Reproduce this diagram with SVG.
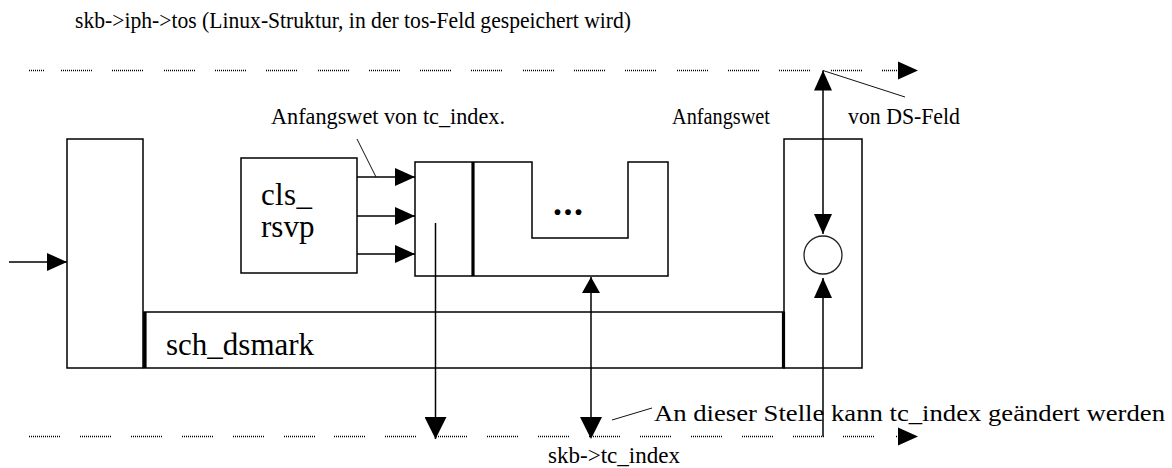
<svg xmlns="http://www.w3.org/2000/svg" width="1172" height="468" viewBox="0 0 1172 468">
<style>
.bg{fill:#fff}
.box{fill:none;stroke:#000;stroke-width:1.5}
.thick{stroke:#000;stroke-width:3.2}
.ln{fill:none;stroke:#000;stroke-width:1.5}
.lead{fill:none;stroke:#111;stroke-width:1}
.dots{fill:none;stroke:#000;stroke-width:1.3;stroke-dasharray:1 1}
.t{font-family:"Liberation Serif","Times New Roman",serif;font-size:23px;fill:#000}
.tb{font-family:"Liberation Serif","Times New Roman",serif;font-size:31px;fill:#000}
.ah{fill:#000}
</style>
<defs>
<marker id="a" viewBox="0 0 20 18" markerWidth="20" markerHeight="18" refX="20" refY="9" orient="auto-start-reverse" markerUnits="userSpaceOnUse"><path d="M0,0L20,9L0,18z" fill="#000"/></marker>
<marker id="b" viewBox="0 0 22 22" markerWidth="22" markerHeight="22" refX="22" refY="11" orient="auto" markerUnits="userSpaceOnUse"><path d="M0,0L22,11L0,22z" fill="#000"/></marker>
</defs>
<rect class="bg" x="0" y="0" width="1172" height="468"/>

<g id="title"><text class="t" x="75" y="28" textLength="556" lengthAdjust="spacingAndGlyphs">skb-&gt;iph-&gt;tos (Linux-Struktur, in der tos-Feld gespeichert wird)</text></g>

<g id="tos-line">
<path class="dots" d="M29 70.5H44M61 70.5H92M112 70.5H143M164 70.5H195M215 70.5H246M266 70.5H297M318 70.5H349M369 70.5H400M420 70.5H451M471 70.5H502M523 70.5H554M574 70.5H605M625 70.5H656M677 70.5H708M728 70.5H759M779 70.5H810M831 70.5H862M882 70.5H898"/>
<path class="ah" d="M898,61.5L918,70.5L898,79.5z"/>
</g>

<g id="tcindex-line">
<path class="dots" d="M29 436.5H60M80 436.5H111M131 436.5H162M182 436.5H213M233 436.5H264M284 436.5H315M334 436.5H365M385 436.5H416M436 436.5H467M487 436.5H518M538 436.5H569M589 436.5H620M640 436.5H671M691 436.5H722M742 436.5H773M793 436.5H824M843 436.5H874M896 436.5H898"/>
<path class="ah" d="M898,427.5L918,436.5L898,445.5z"/>
</g>

<g id="left-box"><rect class="box" x="67" y="139" width="76" height="229"/></g>

<g id="sch_dsmark">
<rect class="box" x="144" y="312" width="640" height="56"/>
<line class="thick" x1="145" y1="312" x2="145" y2="368"/>
<line class="thick" x1="783.5" y1="312" x2="783.5" y2="368"/>
<text class="tb" x="166" y="355">sch_dsmark</text>
</g>

<g id="cls_rsvp">
<rect class="box" x="241" y="158" width="116" height="115"/>
<text class="tb" x="261" y="205" textLength="51" lengthAdjust="spacing">cls_</text>
<text class="tb" x="261" y="237">rsvp</text>
</g>

<g id="tc-table">
<path class="box" d="M415,162H532V238H628V162H668V276H415Z"/>
<line class="thick" x1="473" y1="162" x2="473" y2="276"/>
<text x="553" y="215" font-family="Liberation Serif, serif" font-size="36" font-weight="bold" textLength="30" lengthAdjust="spacing">...</text>
</g>

<g id="ds-box">
<rect class="box" x="784" y="139" width="78" height="229"/>
<circle cx="823" cy="255" r="19" fill="none" stroke="#222" stroke-width="1.3"/>
</g>

<g id="connectors">
<line class="ln" x1="9" y1="262" x2="67" y2="262" marker-end="url(#a)"/>
<line class="ln" x1="357" y1="177" x2="415" y2="177" marker-end="url(#a)"/>
<line class="ln" x1="357" y1="216" x2="415" y2="216" marker-end="url(#a)"/>
<line class="ln" x1="357" y1="254" x2="415" y2="254" marker-end="url(#a)"/>
<line class="ln" x1="435.5" y1="223" x2="435.5" y2="439" marker-end="url(#b)"/>
<line class="ln" x1="591" y1="277" x2="591" y2="418"/>
<path class="ah" d="M582,293L591,277L600,293z"/>
<path class="ah" d="M580,417L591,439L602,417z"/>
<line class="ln" x1="823" y1="70.5" x2="823" y2="234" marker-start="url(#a)" marker-end="url(#a)"/>
<line class="ln" x1="823" y1="436.5" x2="823" y2="278" marker-end="url(#a)"/>
<line class="lead" x1="357" y1="139" x2="376" y2="177"/>
<line class="lead" x1="823" y1="70.5" x2="905" y2="97"/>
<line class="lead" x1="612" y1="420" x2="652" y2="408"/>
</g>

<g id="labels">
<text class="t" x="271" y="124" textLength="234" lengthAdjust="spacingAndGlyphs">Anfangswet von tc_index.</text>
<text class="t" x="672" y="124" textLength="98" lengthAdjust="spacingAndGlyphs">Anfangswet</text>
<text class="t" x="848" y="124" textLength="112" lengthAdjust="spacingAndGlyphs">von DS-Feld</text>
<text class="t" x="654" y="421" font-size="24" textLength="511" lengthAdjust="spacingAndGlyphs">An dieser Stelle kann tc_index  geändert werden</text>
<text class="t" x="548" y="463" textLength="132" lengthAdjust="spacingAndGlyphs">skb-&gt;tc_index</text>
</g>
</svg>
